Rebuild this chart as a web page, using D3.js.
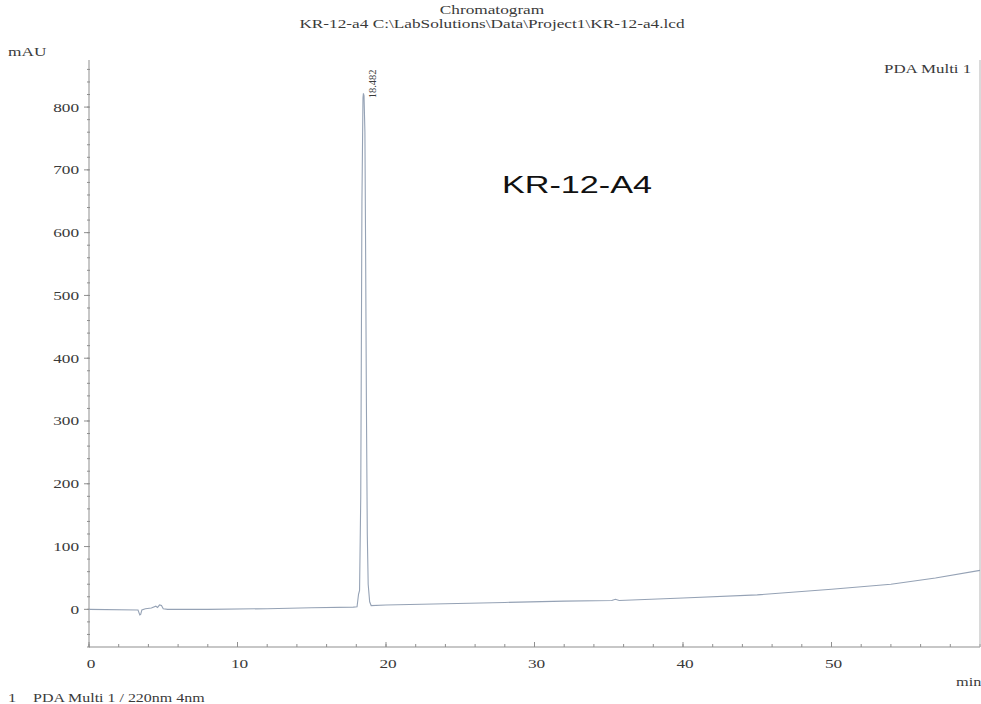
<!DOCTYPE html>
<html>
<head>
<meta charset="utf-8">
<script src="https://cdn.jsdelivr.net/npm/d3@7"></script>
<style>
  html, body { margin: 0; padding: 0; background: #fff; }
  svg { display: block; }
  text { font-family: "Liberation Serif", "Times New Roman", serif; fill: #3a3a3a; }
</style>
</head>
<body>
<svg id="chart" width="981" height="704"></svg>
<script>
// Retention time (min) and detector response (mAU), PDA channel 1
const retentionTime = [0, 3.3, 3.42, 3.48, 3.56, 3.8, 4.2, 4.5, 4.62, 4.75, 4.88, 5.0, 5.3, 8, 12, 15,
  17.8, 18.05, 18.15, 18.22, 18.3, 18.38, 18.45, 18.48, 18.52, 18.58, 18.63, 18.68, 18.74, 18.8, 18.9, 19.0,
  20, 24, 28, 32, 35.2, 35.45, 35.7, 40, 45, 50, 54, 57, 60];
const absorbance = [0, -1, -9, -8, -1, 1, 2, 5, 3, 7, 6, 1, 0, 0, 1, 2.5,
  3.5, 4, 24, 30, 180, 650, 815, 822, 818, 760, 560, 330, 120, 40, 12, 6,
  7, 9, 11, 13, 14, 16, 14, 18, 23, 32, 40, 50, 62];

const xMajorTicks = [0, 10, 20, 30, 40, 50];
const yMajorTicks = [0, 100, 200, 300, 400, 500, 600, 700, 800];
const peakTimes = ["18.482"];
const peakHeights = [822];

const titleLines = ["Chromatogram", "KR-12-a4 C:\\LabSolutions\\Data\\Project1\\KR-12-a4.lcd"];
const channelName = "PDA Multi 1";
const sampleLabel = "KR-12-A4";
const footerLabel = "PDA Multi 1 / 220nm 4nm";

const svg = d3.select("#chart");
const stretch = 1.38;

// Text in this report is printed horizontally widened
function wide(sel, factor = stretch) {
  sel.each(function () {
    const len = this.getComputedTextLength();
    d3.select(this).attr("textLength", len * factor).attr("lengthAdjust", "spacingAndGlyphs");
  });
  return sel;
}

const x = d3.scaleLinear().domain([0, 60]).range([89, 980]);
const y = d3.scaleLinear().domain([-60, 875]).range([647, 60]);

const axisColor = "#8f8f8f";

// Titles
svg.append("text").attr("x", 492).attr("y", 14).attr("text-anchor", "middle")
  .attr("font-size", 12.5).text(titleLines[0]).call(wide);
svg.append("text").attr("x", 492).attr("y", 28).attr("text-anchor", "middle")
  .attr("font-size", 12.5).text(titleLines[1]).call(wide);

// Unit labels
svg.append("text").attr("x", 8).attr("y", 56).attr("font-size", 12.5).text("mAU").call(wide);
svg.append("text").attr("x", 956).attr("y", 686).attr("font-size", 12.5).text("min").call(wide, 1.3);

// Channel label
svg.append("text").attr("x", 884).attr("y", 73).attr("font-size", 12.5).text(channelName).call(wide, 1.35);

// Left axis
const gY = svg.append("g");
gY.append("line").attr("x1", x(0)).attr("x2", x(0)).attr("y1", y.range()[1]).attr("y2", y.range()[0])
  .attr("stroke", axisColor).attr("stroke-width", 1);
gY.selectAll("line.minor").data(d3.range(-60, 876, 20)).join("line")
  .attr("class", "minor")
  .attr("x1", x(0) - 2).attr("x2", x(0) + 1)
  .attr("y1", d => y(d)).attr("y2", d => y(d))
  .attr("stroke", axisColor).attr("stroke-width", 1);
gY.selectAll("line.major").data(yMajorTicks).join("line")
  .attr("class", "major")
  .attr("x1", x(0) - 5).attr("x2", x(0))
  .attr("y1", d => y(d)).attr("y2", d => y(d))
  .attr("stroke", axisColor).attr("stroke-width", 1);
gY.selectAll("text").data(yMajorTicks).join("text")
  .attr("x", x(0) - 10).attr("y", d => y(d) + 4.5)
  .attr("text-anchor", "end").attr("font-size", 12.5)
  .text(d => d).call(wide);

// Bottom axis
const gX = svg.append("g");
gX.append("line").attr("x1", x(0)).attr("x2", x(60)).attr("y1", y(-60)).attr("y2", y(-60))
  .attr("stroke", axisColor).attr("stroke-width", 1);
gX.selectAll("line.minor").data(d3.range(0, 61, 2)).join("line")
  .attr("class", "minor")
  .attr("x1", d => x(d)).attr("x2", d => x(d))
  .attr("y1", y(-60)).attr("y2", y(-60) - 3)
  .attr("stroke", axisColor).attr("stroke-width", 1);
gX.selectAll("line.major").data(xMajorTicks).join("line")
  .attr("class", "major")
  .attr("x1", d => x(d)).attr("x2", d => x(d))
  .attr("y1", y(-60)).attr("y2", y(-60) - 5)
  .attr("stroke", axisColor).attr("stroke-width", 1);
gX.selectAll("text").data(xMajorTicks).join("text")
  .attr("x", d => x(d) + 2).attr("y", 668)
  .attr("text-anchor", "middle").attr("font-size", 12.5)
  .text(d => d).call(wide);

// Right frame edge
svg.append("line").attr("x1", x(60)).attr("x2", x(60)).attr("y1", y.range()[1]).attr("y2", y(-60))
  .attr("stroke", "#b5b5b5").attr("stroke-width", 1);

// Chromatogram trace
const trace = retentionTime.map((t, i) => [t, absorbance[i]]);
svg.append("path")
  .datum(trace)
  .attr("fill", "none")
  .attr("stroke", "#95a2b5")
  .attr("stroke-width", 1.1)
  .attr("d", d3.line().x(d => x(d[0])).y(d => y(d[1])));

// Peak retention time labels, printed upright beside each apex
peakTimes.forEach((p, i) => {
  svg.append("text")
    .attr("transform", `translate(${x(+p) + 13},${y(peakHeights[i]) + 5}) rotate(-90)`)
    .attr("font-size", 10.5)
    .text(p);
});

// Sample name annotation
svg.append("text").attr("x", 502).attr("y", 193)
  .style("font-family", "'Liberation Sans', Arial, sans-serif")
  .attr("font-size", 24).style("fill", "#111")
  .attr("textLength", 150).attr("lengthAdjust", "spacingAndGlyphs")
  .text(sampleLabel);

// Channel legend below the plot
svg.append("text").attr("x", 8).attr("y", 702).attr("font-size", 12).text("1").call(wide);
svg.append("text").attr("x", 33).attr("y", 702).attr("font-size", 12).text(footerLabel).call(wide, 1.33);
</script>
</body>
</html>
